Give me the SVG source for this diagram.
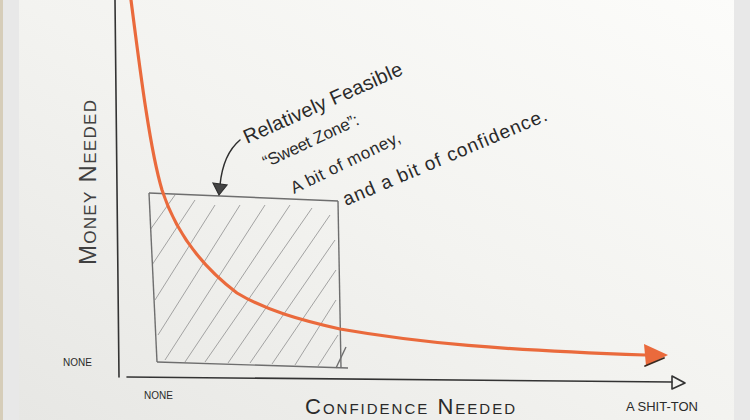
<svg xmlns="http://www.w3.org/2000/svg" width="750" height="420" viewBox="0 0 750 420">
<defs>
<linearGradient id="paper" x1="1" y1="0" x2="0" y2="1">
<stop offset="0" stop-color="#fcfcfa"/>
<stop offset="0.5" stop-color="#f3f3f0"/>
<stop offset="1" stop-color="#e7e7e4"/>
</linearGradient>
<clipPath id="boxclip"><polygon points="149,194 338,201 341,368 157,362"/></clipPath>
<style>
.hand{font-family:"Liberation Sans",Arial,sans-serif;fill:#2a2a2a}
.light{fill:#404040}
.axis{stroke:#333;stroke-width:1.6;fill:none;stroke-linecap:round}
.box{stroke:#6e6e6e;stroke-width:1.4;fill:none}
.hatch{stroke:#9a9a9a;stroke-width:0.9;fill:none}
.curve{stroke:#ea6a3c;stroke-width:3.2;fill:none;stroke-linecap:round}
</style>
</defs>
<rect x="0" y="0" width="750" height="420" fill="#e8e8e8"/>
<rect x="0" y="0" width="3" height="420" fill="#d6cdb9"/>
<rect x="19" y="0" width="715" height="420" fill="url(#paper)"/>

<g id="axes">
<line class="axis" x1="115" y1="0" x2="119" y2="377"/>
<line class="axis" x1="127" y1="377" x2="672" y2="382"/>
<polygon points="672,376 685,383 672,389" fill="none" stroke="#333" stroke-width="1.6" stroke-linejoin="round"/>
</g>

<g id="sweet-zone">
<g clip-path="url(#boxclip)">
<line class="hatch" x1="150" y1="230" x2="175" y2="195"/>
<line class="hatch" x1="152" y1="265" x2="195" y2="200"/>
<line class="hatch" x1="155" y1="300" x2="215" y2="205"/>
<line class="hatch" x1="158" y1="335" x2="240" y2="205"/>
<line class="hatch" x1="165" y1="360" x2="265" y2="205"/>
<line class="hatch" x1="185" y1="362" x2="290" y2="205"/>
<line class="hatch" x1="205" y1="362" x2="312" y2="208"/>
<line class="hatch" x1="228" y1="363" x2="330" y2="215"/>
<line class="hatch" x1="250" y1="363" x2="335" y2="240"/>
<line class="hatch" x1="272" y1="364" x2="336" y2="270"/>
<line class="hatch" x1="295" y1="365" x2="336" y2="300"/>
<line class="hatch" x1="318" y1="366" x2="338" y2="335"/>
</g>
<polyline class="box" points="149,193 338,201"/>
<polyline class="box" points="149,193 157,362"/>
<polyline class="box" points="157,362 348,368"/>
<polyline class="box" points="338,201 341,368"/>
<line class="box" x1="336" y1="368" x2="346" y2="347"/>
</g>

<g id="curve">
<path class="curve" d="M131,0 C140,70 150,150 162,190 C175,230 200,265 237,293 C265,310 300,320 340,329 C420,343 500,350 645,355"/>
<polygon points="644,344 668,355 646,366" fill="#ea6a3c"/>
<line x1="645" y1="366" x2="664" y2="358" stroke="#3a2a20" stroke-width="1.8" stroke-linecap="round"/>
</g>

<g id="annotation">
<path d="M240,140 C228,150 222,165 220,185" fill="none" stroke="#2e2e2e" stroke-width="1.5" stroke-linecap="round"/>
<polygon points="213,183 227,185 219,195" fill="#444" stroke="#2e2e2e" stroke-width="1.2"/>
<text class="hand" font-size="20" textLength="172" lengthAdjust="spacing" transform="translate(247,144) rotate(-24)">Relatively Feasible</text>
<text class="hand" font-size="17" textLength="104" lengthAdjust="spacing" transform="translate(266,168) rotate(-25)">“Sweet Zone”:</text>
<text class="hand" font-size="17" textLength="120" lengthAdjust="spacing" transform="translate(294,194) rotate(-26)">A bit of money,</text>
<text class="hand" font-size="19" textLength="220" lengthAdjust="spacing" transform="translate(346,206) rotate(-23)">and a bit of confidence.</text>
</g>

<g id="labels">
<text class="hand light" font-size="24" textLength="165" lengthAdjust="spacing" style="font-variant:small-caps" transform="translate(96,265) rotate(-90)">Money Needed</text>
<text class="hand" font-size="10" x="63" y="366">NONE</text>
<text class="hand" font-size="10" x="144" y="399">NONE</text>
<text class="hand" font-size="22" textLength="210" lengthAdjust="spacing" style="font-variant:small-caps" x="305" y="414">Confidence Needed</text>
<text class="hand" font-size="13" x="626" y="411">A SHIT-TON</text>
</g>
</svg>
